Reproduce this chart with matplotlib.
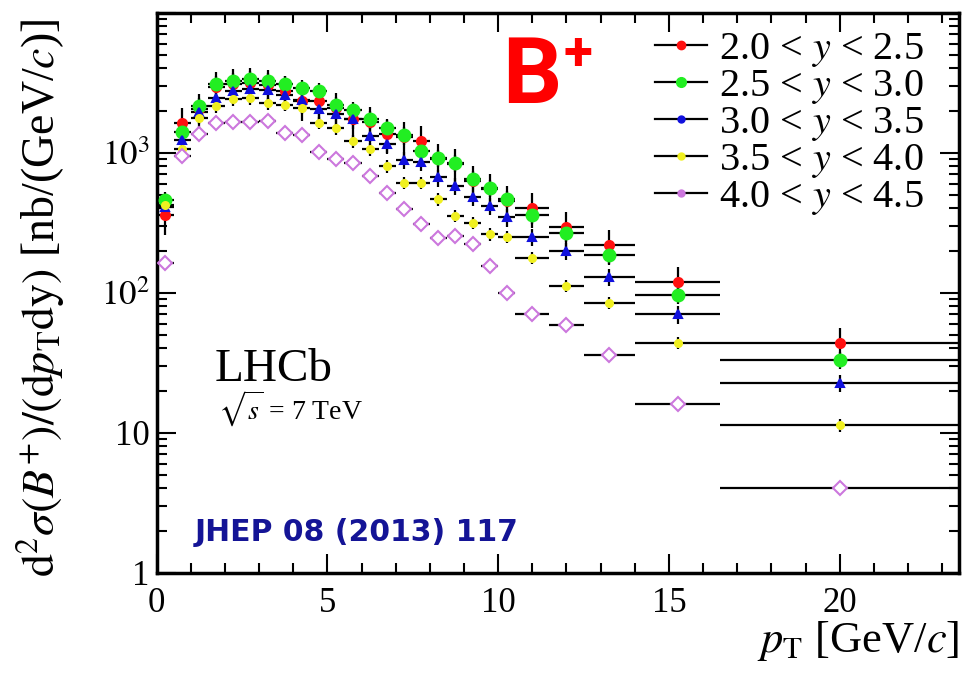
import matplotlib
matplotlib.use("Agg")
import numpy as np
import matplotlib.pyplot as plt
from matplotlib.lines import Line2D
from matplotlib.ticker import MultipleLocator, LogLocator, FixedLocator, FixedFormatter, NullFormatter

plt.rcParams['font.family'] = ['Liberation Serif', 'DejaVu Serif']
plt.rcParams['mathtext.fontset'] = 'stix'

# pT bin edges [GeV/c]
edges = [0.0, 0.5, 1.0, 1.5, 2.0, 2.5, 3.0, 3.5, 4.0, 4.5, 5.0, 5.5, 6.0, 6.5,
         7.0, 7.5, 8.0, 8.5, 9.0, 9.5, 10.0, 10.5, 11.5, 12.5, 14.0, 16.5, 23.5]

# d2sigma/(dpT dy) [nb/(GeV/c)] per rapidity bin
y_20_25 = [357, 1640, 2050, 2950, 3100, 3150, 3050, 2750, 2350, 2340, 2100, 1750, 1650,
           1350, 1300, 1210, 900, 830, 630, 550, 455, 400, 295, 220, 120, 43.5]
y_25_30 = [460, 1400, 2150, 3080, 3250, 3380, 3250, 3120, 2900, 2750, 2200, 2020, 1730,
           1510, 1330, 1030, 920, 850, 645, 560, 465, 360, 268, 185, 97, 33]
y_30_35 = [410, 1230, 1950, 2470, 2760, 2830, 2800, 2570, 2380, 2040, 1880, 1730, 1315,
           1150, 890, 860, 665, 580, 485, 415, 345, 250, 200, 130, 70, 22.8]
y_35_40 = [425, 1060, 1780, 2150, 2400, 2450, 2250, 2200, 2100, 1640, 1490, 1210, 1060,
           800, 610, 610, 465, 355, 316, 262, 250, 178, 112, 85, 44, 11.3]
y_40_45 = [164, 940, 1350, 1630, 1650, 1660, 1680, 1390, 1330, 1010, 900, 850, 680,
           512, 395, 308, 247, 254, 221, 155, 100, 71, 59, 35.7, 15.9, 4.0]

labels = ["2.0 < $y$ < 2.5", "2.5 < $y$ < 3.0", "3.0 < $y$ < 3.5",
          "3.5 < $y$ < 4.0", "4.0 < $y$ < 4.5"]
rel_err = [0.28, 0.14, 0.14, 0.10, 0.08]

series = [y_20_25, y_25_30, y_30_35, y_35_40, y_40_45]
colors = ['#ff1010', '#22ee22', '#1010dd', '#f0f020', '#cc77dd']
markers = ['o', 'o', '^', 'o', 'D']
msizes = [6.5, 8.5, 6, 5, 7.5]

lo = np.array(edges[:-1])
hi = np.array(edges[1:])
pt = (lo + hi) / 2
xerr = (hi - lo) / 2

fig = plt.figure(figsize=(9.71, 6.79), dpi=100)
ax = fig.add_axes([0.1612, 0.1566, 0.8268, 0.8247])

for vals, c, m, ms, re in zip(series, colors, markers, msizes, rel_err):
    v = np.array(vals)
    face = 'white' if m == 'D' else c
    ax.errorbar(pt, v, xerr=xerr, yerr=v * re, fmt=m, color=c, mfc=face, mec=c,
                mew=1.5, ms=ms, ecolor='black', elinewidth=1.6, capsize=0, zorder=3)

ax.set_yscale('log')
ax.set_xlim(0, 23.5)
ax.set_ylim(1, 1e4)

ax.xaxis.set_major_locator(MultipleLocator(5))
ax.xaxis.set_minor_locator(MultipleLocator(1))
ax.yaxis.set_major_locator(FixedLocator([1, 10, 100, 1000, 10000]))
ax.yaxis.set_major_formatter(FixedFormatter(['1', '10', r'$10^2$', r'$10^3$', '']))
ax.yaxis.set_minor_locator(LogLocator(base=10, subs=np.arange(2, 10)))
ax.yaxis.set_minor_formatter(NullFormatter())

ax.tick_params(which='both', direction='in', top=True, right=True, width=1.5)
ax.tick_params(which='major', length=14)
ax.tick_params(which='minor', length=7)
ax.tick_params(axis='x', labelsize=25, pad=10)
ax.tick_params(axis='y', labelsize=25, pad=5)
for s in ax.spines.values():
    s.set_linewidth(2.5)

ax.set_ylabel(r"$\mathrm{d}^2\sigma(B^{+})/(\mathrm{d}p_{\mathrm{T}}\mathrm{dy})$ [nb/(GeV/$c$)]",
              fontsize=33)
ax.yaxis.set_label_coords(-0.112, 0.49)
ax.set_xlabel(r"$p_{\mathrm{T}}$ [GeV/$c$]", fontsize=32, ha='right')
ax.xaxis.set_label_coords(1.0, -0.083)

handles = []
for c, ms in zip(colors, [6, 7, 5, 5, 5]):
    handles.append(Line2D([], [], color='black', lw=1.6, marker='o', ms=ms,
                          mfc=c, mec=c))
ax.legend(handles, labels, loc='upper left', bbox_to_anchor=(655 / 971, 1 - 31 / 679),
          bbox_transform=fig.transFigure, frameon=False, fontsize=29,
          handlelength=1.3, handletextpad=0.3, labelspacing=-0.03,
          borderpad=0, borderaxespad=0)

fig.text(502 / 971, 1 - 103 / 679, "B", color='#ff0000', fontsize=67,
         fontweight='bold', family='Roboto', va='baseline')
fig.text(578 / 971, 1 - 55 / 679, "+", color='#ff0000', fontsize=38,
         fontweight='bold', family='Roboto', va='center', ha='center')
fig.text(215 / 971, 1 - 381 / 679, "LHCb", fontsize=34, va='baseline')
fig.text(218 / 971, 1 - 420 / 679, r"$\sqrt{s}$ = 7 TeV", fontsize=20, va='baseline')
fig.text(195 / 971, 1 - 541 / 679, "JHEP 08 (2013) 117", color='#141496', fontsize=21.5,
         fontweight='bold', family='DejaVu Sans', va='baseline')

fig.savefig('out.png', dpi=100)
